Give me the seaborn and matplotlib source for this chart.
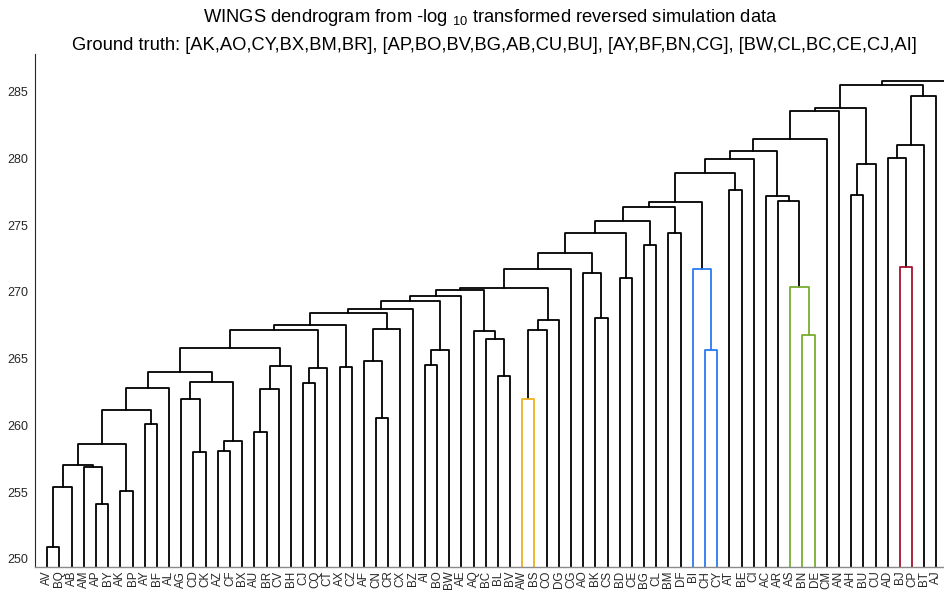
import numpy as np
import pandas as pd
import matplotlib
matplotlib.use("Agg")
import matplotlib.pyplot as plt
import seaborn as sns

# ---------------- data ----------------
leaves = ["AV", "BQ", "AB", "AM", "AP", "BY", "AK", "BP", "AY", "BF", "AL", "AG", "CD", "CK",
          "AZ", "CF", "BX", "AU", "BR", "CV", "BH", "CJ", "CQ", "CT", "AX", "CZ", "AF", "CN",
          "CR", "CX", "BZ", "AI", "BO", "BW", "AE", "AQ", "BC", "BL", "BV", "AW", "BS", "CO",
          "DG", "CG", "AO", "BK", "CS", "BD", "CE", "BG", "CL", "BM", "DF", "BI", "CH", "CY",
          "AT", "BE", "CI", "AC", "AR", "AS", "BN", "DE", "CM", "AN", "AH", "BU", "CU", "AD",
          "BJ", "CP", "BT", "AJ", "_hidden"]

merge_node = ["n%d" % i for i in range(1, 75)]
merge_left = ["AV", "n1", "AP", "AM", "n2", "AK", "n5", "AY", "n7", "n9",
              "CD", "AG", "AZ", "n13", "n12", "n10", "AU", "n17", "n18", "n16",
              "CJ", "n21", "n20", "AX", "n23", "CN", "AF", "n27", "n25", "n29",
              "AI", "n31", "n30", "n33", "BL", "BC", "AQ", "n34", "AW", "n39",
              "n40", "n38", "n42", "BK", "AO", "n43", "BD", "n46", "BG", "n48",
              "BM", "n50", "CH", "BI", "n52", "AT", "n55", "n57", "BN", "AS",
              "AR", "AC", "n58", "n63", "n64", "AH", "n66", "n65", "BJ", "AD",
              "n70", "n71", "n68", "n73"]
merge_right = ["BQ", "AB", "BY", "n3", "n4", "BP", "n6", "BF", "n8", "AL",
               "CK", "n11", "CF", "BX", "n14", "n15", "BR", "CV", "BH", "n19",
               "CQ", "CT", "n22", "CZ", "n24", "CR", "n26", "CX", "n28", "BZ",
               "BO", "BW", "n32", "AE", "BV", "n35", "n36", "n37", "BS", "CO",
               "DG", "n41", "CG", "CS", "n44", "n45", "CE", "n47", "CL", "n49",
               "DF", "n51", "CY", "n53", "n54", "BE", "n56", "CI", "DE", "n59",
               "n60", "n61", "n62", "CM", "AN", "BU", "CU", "n67", "CP", "n69",
               "BT", "AJ", "n72", "_hidden"]
merge_height = [250.85, 255.35, 254.07, 256.87, 257.02, 255.05, 258.60, 260.14, 261.19, 262.77,
                258.02, 261.97, 258.10, 258.85, 263.27, 263.97, 259.54, 262.74, 264.47, 265.82,
                263.14, 264.27, 267.17, 264.35, 267.54, 260.52, 264.84, 267.22, 268.42, 268.76,
                264.49, 265.67, 269.29, 269.72, 263.67, 266.47, 267.09, 270.16, 261.95, 267.15,
                267.90, 270.30, 271.70, 268.05, 271.39, 272.90, 271.04, 274.46, 273.50, 275.29,
                274.44, 276.34, 265.67, 271.76, 276.71, 277.64, 278.90, 279.96, 266.77, 270.34,
                276.84, 277.16, 280.56, 281.48, 283.58, 277.29, 279.60, 283.83, 271.85, 280.06,
                281.00, 284.66, 285.53, 285.83]
merge_group = ["k"] * 74
for _i, _g in [(39, "orange"), (53, "blue"), (54, "blue"), (59, "green"), (60, "green"), (69, "red")]:
    merge_group[_i - 1] = _g

title_line1 = "WINGS dendrogram from -log $_{10}$ transformed reversed simulation data"
title_line2 = "Ground truth: [AK,AO,CY,BX,BM,BR], [AP,BO,BV,BG,AB,CU,BU], [AY,BF,BN,CG], [BW,CL,BC,CE,CJ,AI]"
y_ticks = [250, 255, 260, 265, 270, 275, 280, 285]

palette = {"k": "#000000", "orange": "#EDB120", "blue": "#2A7BF2",
           "green": "#77AC30", "red": "#A2142F"}

# ---------------- build link paths ----------------
pos = {name: i + 1 for i, name in enumerate(leaves)}
hgt = {name: 0.0 for name in leaves}
rows = []
for node, l, r, h, g in zip(merge_node, merge_left, merge_right, merge_height, merge_group):
    xl, xr = pos[l], pos[r]
    pts = [(xl, hgt[l]), (xl, h), (xr, h), (xr, hgt[r])]
    for k, (px, py) in enumerate(pts):
        rows.append({"link": node, "order": k, "x": px, "y": py, "group": g})
    pos[node] = (xl + xr) / 2.0
    hgt[node] = h
df = pd.DataFrame(rows)

# ---------------- plot ----------------
sns.set_theme(style="white")
plt.rcParams["font.family"] = ["Liberation Sans", "DejaVu Sans"]
plt.rcParams["mathtext.fontset"] = "custom"
plt.rcParams["mathtext.rm"] = "Liberation Sans"
plt.rcParams["mathtext.it"] = "Liberation Sans"

W, H = 945, 590
fig = plt.figure(figsize=(W / 100, H / 100), dpi=100)
n_slots = len(leaves) + 1
px_per_unit = 12.18
left_px = 35.1
ax = fig.add_axes([left_px / W, (H - 566.5) / H, n_slots * px_per_unit / W, (566.5 - 53.5) / H])

sns.lineplot(data=df, x="x", y="y", units="link", hue="group", palette=palette,
             estimator=None, sort=False, legend=False, linewidth=1.3, ax=ax)

ax.set_xlim(0, n_slots)
ax.set_ylim(249.42, 287.88)
ax.set_xticks(range(1, len(leaves) + 1))
ax.set_xticklabels([lab if not lab.startswith("_") else "" for lab in leaves],
                   rotation=90, fontsize=8.4, color="#262626")
ax.set_yticks(y_ticks)
ax.set_yticklabels([str(t) for t in y_ticks], fontsize=9, color="#262626")
ax.set_xlabel("")
ax.set_ylabel("")
ax.tick_params(axis="both", direction="in", length=6.5, width=0.7, color="#262626")
ax.tick_params(axis="y", pad=5)
ax.tick_params(axis="x", pad=3)
for s in ["top", "right"]:
    ax.spines[s].set_visible(False)
ax.spines["left"].set_color("#262626")
ax.spines["bottom"].set_color("#8a8a8a")
ax.spines["left"].set_linewidth(0.8)
ax.spines["bottom"].set_linewidth(1.0)
ax.grid(False)

fig.text(490 / W, 1 - 18 / H, title_line1, ha="center", va="center", fontsize=13.2, color="#000000")
fig.text(494 / W, 1 - 45 / H, title_line2, ha="center", va="center", fontsize=13.2, color="#000000")

fig.savefig("out.png", dpi=100)
